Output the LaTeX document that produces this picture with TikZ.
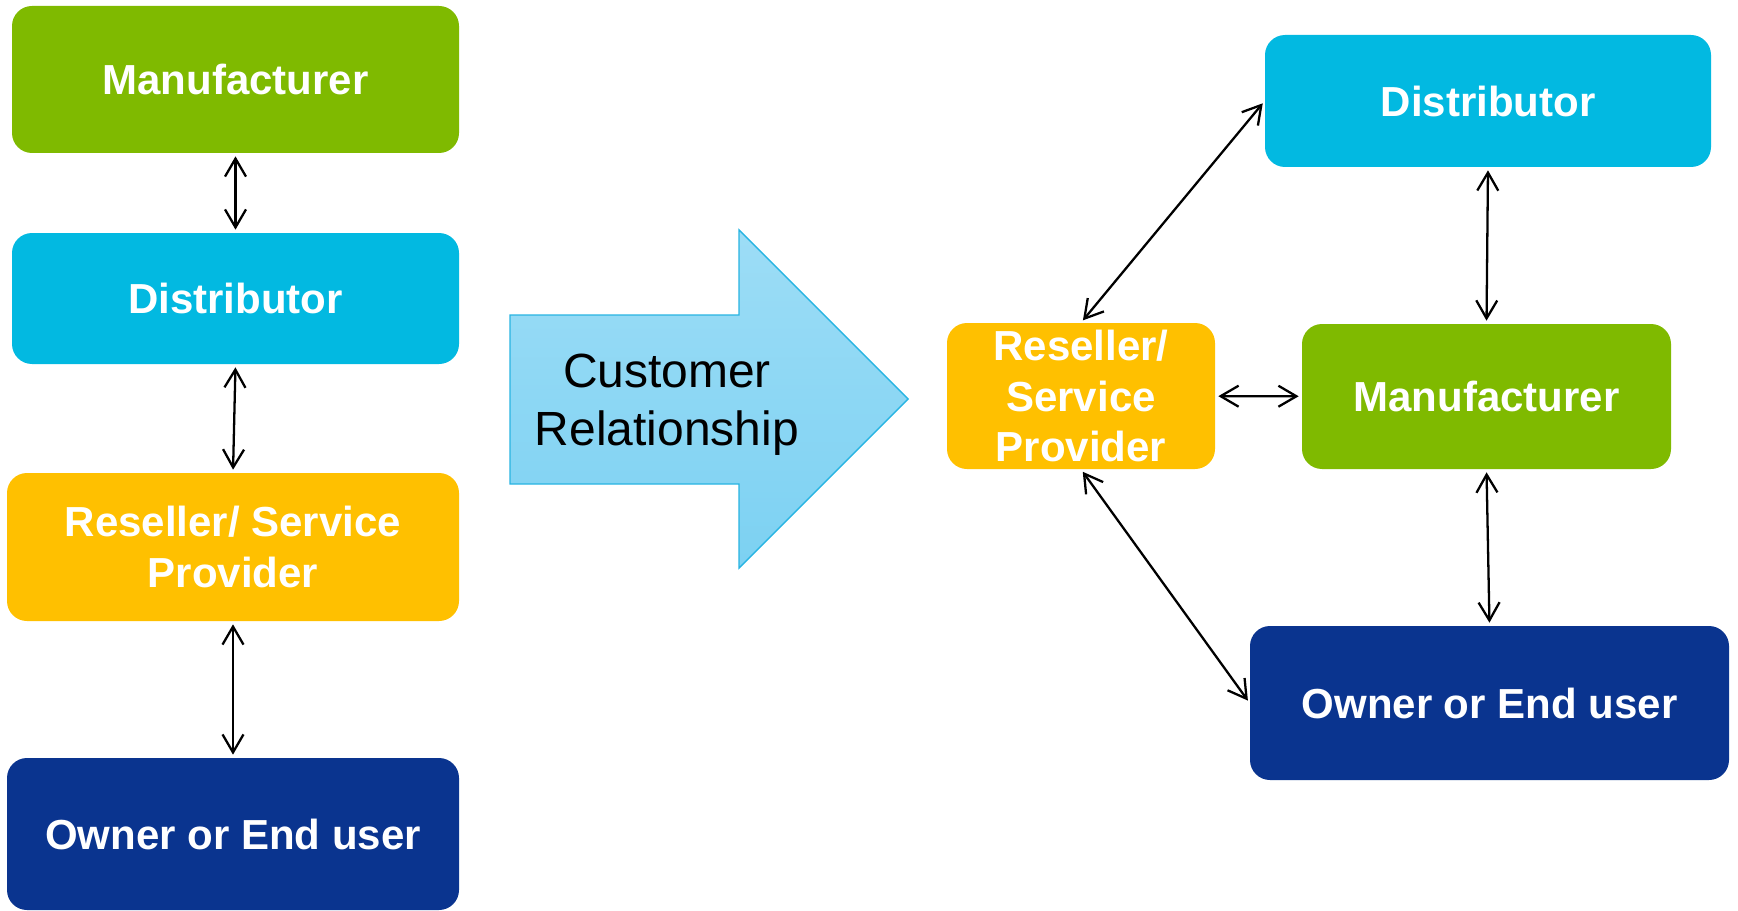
\documentclass[tikz,border=0pt]{standalone}
\usepackage{fontspec}
\setmainfont{Liberation Sans}
\usetikzlibrary{arrows.meta,positioning}
\definecolor{partygreen}{RGB}{127,186,0}
\definecolor{partycyan}{RGB}{2,185,225}
\definecolor{partyorange}{RGB}{255,192,0}
\definecolor{partynavy}{RGB}{10,52,143}
\definecolor{crtop}{RGB}{157,221,246}
\definecolor{crbottom}{RGB}{124,209,242}
\definecolor{crline}{RGB}{40,180,226}
\tikzset{
    every node/.style={
        font=\fontsize{23.9}{29}\selectfont\bfseries
    },
    link/.style={
        <->,
        line width=1.3pt,
        shorten <=1.7pt,
        shorten >=1.7pt
    }
}
\tikzstyle{party} = [rectangle, rounded corners=0.4cm, text=white, align=center, inner sep=0pt]

\begin{document}
\begin{tikzpicture}[
			>={Straight Barb[length=0.36cm, width=0.42cm]},
			bigarrow/.style={draw=crline, line width=0.8pt, top color=crtop, bottom color=crbottom}
			]
			\useasboundingbox (0, 0) rectangle (34.76, -18.22);
			
			\node (lman) at (4.71, -1.59) [party, fill=partygreen, minimum width=8.94cm, minimum height=2.94cm] {Manufacturer};
			\node (ldis) at (4.71, -5.97) [party, fill=partycyan, minimum width=8.94cm, minimum height=2.62cm] {Distributor};
			\node (lres) at (4.66, -10.94) [party, fill=partyorange, minimum width=9.04cm, minimum height=2.96cm] {Reseller/ Service\\Provider};
			\node (lown) at (4.66, -16.68) [party, fill=partynavy, minimum width=9.04cm, minimum height=3.04cm] {Owner or End user};
			
			\draw [bigarrow] (10.20, -6.30) -- (14.78, -6.30) -- (14.78, -4.60) -- (18.16, -7.98) -- (14.78, -11.36) -- (14.78, -9.68) -- (10.20, -9.68) -- cycle;
			\node (cr) at (13.34, -8.10) [font=\fontsize{27.3}{32.9}\selectfont, align=center] {Customer\\Relationship};
			
			\node (rdis) at (29.76, -2.02) [party, fill=partycyan, minimum width=8.92cm, minimum height=2.64cm] {Distributor};
			\node (rman) at (29.73, -7.93) [party, fill=partygreen, minimum width=7.38cm, minimum height=2.90cm] {Manufacturer};
			\node (rres) at (21.62, -7.92) [party, fill=partyorange, minimum width=5.36cm, minimum height=2.92cm] {Reseller/\\Service\\Provider};
			\node (rown) at (29.79, -14.06) [party, fill=partynavy, minimum width=9.58cm, minimum height=3.08cm] {Owner or End user};
			
			\draw [link] (lman) -- (ldis);
			\draw [link] (ldis.south) -- (lres.north);
			\draw [link] (lres) -- (lown);
			
			\draw [link] (rres.north) -- (rdis.west);
			\draw [link] (rdis.south) -- (rman.north);
			\draw [link] (rres) -- (rman);
			\draw [link] (rman.south) -- (rown.north);
			\draw [link] (rres.south) -- (rown.west);
		\end{tikzpicture}
\end{document}
